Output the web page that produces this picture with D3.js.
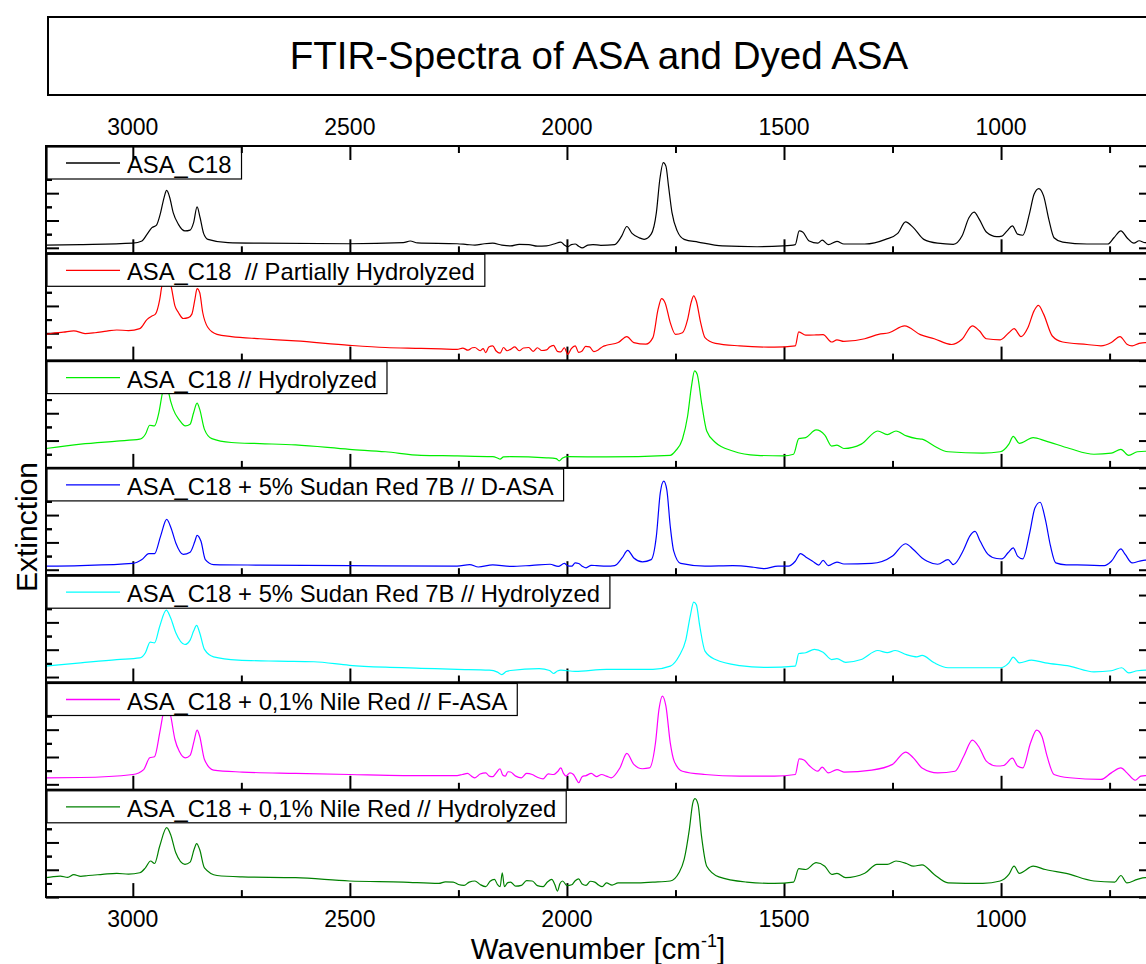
<!DOCTYPE html>
<html>
<head>
<meta charset="utf-8">
<script src="https://cdn.jsdelivr.net/npm/d3@7"></script>
<style>
  html, body { margin: 0; padding: 0; background: #fff; overflow: hidden; }
  svg { display: block; font-family: "Liberation Sans", Arial, sans-serif; }
</style>
</head>
<body>
<svg id="chart" width="1146" height="964"></svg>
<script>
// ---- data -------------------------------------------------------------
const chartTitle = "FTIR-Spectra of ASA and Dyed ASA";
const wavenumberRange = [3200, 650];
const xMajorTicks = [3000, 2500, 2000, 1500, 1000];
const xMinorTicks = [2750, 2250, 1750, 1250, 750];

const seriesNames = [
  "ASA_C18",
  "ASA_C18  // Partially Hydrolyzed",
  "ASA_C18 // Hydrolyzed",
  "ASA_C18 + 5% Sudan Red 7B // D-ASA",
  "ASA_C18 + 5% Sudan Red 7B // Hydrolyzed",
  "ASA_C18 + 0,1% Nile Red // F-ASA",
  "ASA_C18 + 0,1% Nile Red // Hydrolyzed"
];
const seriesColors = ["#000000", "#ff0000", "#00ee00", "#0000ff", "#00ffff", "#ff00ff", "#008000"];
// lower end of each panel's extinction axis
const panelMin = [-0.02, 0, 0, -0.02, -0.02, -0.02, 0];

// [wavenumber (cm-1), extinction]
const asaC18 = [[3200,0.010],[3120,0.012],[3000,0.017],[2979,0.025],[2967,0.050],[2956,0.074],[2946,0.082],[2936,0.129],[2928,0.184],[2922,0.210],[2915,0.184],[2907,0.129],[2895,0.086],[2880,0.062],[2868,0.065],[2860,0.092],[2852,0.150],[2845,0.110],[2837,0.053],[2827,0.031],[2781,0.019],[2707,0.017],[2501,0.015],[2377,0.019],[2361,0.025],[2344,0.018],[2253,0.015],[2230,0.012],[2212,0.010],[2190,0.015],[2171,0.017],[2150,0.010],[2130,0.007],[2110,0.013],[2088,0.012],[2068,0.006],[2047,0.007],[2030,0.014],[2014,0.021],[2006,0.010],[1998,0.004],[1990,0.012],[1981,0.014],[1973,0.006],[1965,0.000],[1952,0.010],[1940,0.012],[1922,0.009],[1890,0.012],[1874,0.043],[1862,0.078],[1850,0.053],[1834,0.037],[1822,0.031],[1806,0.050],[1794,0.129],[1786,0.251],[1778,0.312],[1772,0.299],[1766,0.226],[1758,0.129],[1746,0.062],[1730,0.031],[1698,0.021],[1642,0.007],[1562,0.004],[1502,0.007],[1474,0.012],[1465,0.062],[1457,0.058],[1442,0.025],[1422,0.017],[1412,0.028],[1398,0.012],[1378,0.024],[1362,0.014],[1314,0.014],[1266,0.031],[1238,0.053],[1220,0.095],[1202,0.074],[1178,0.031],[1146,0.017],[1110,0.013],[1090,0.043],[1074,0.110],[1062,0.131],[1050,0.104],[1034,0.058],[1010,0.041],[998,0.043],[986,0.062],[974,0.080],[962,0.050],[950,0.046],[934,0.129],[924,0.196],[913,0.217],[902,0.190],[890,0.104],[878,0.037],[858,0.021],[802,0.014],[754,0.014],[740,0.037],[724,0.062],[710,0.037],[694,0.017],[682,0.026],[668,0.019],[650,0.020]];

const asaPartHydro = [[3200,0.096],[3186,0.100],[3160,0.104],[3136,0.109],[3110,0.099],[3087,0.102],[3060,0.108],[3037,0.112],[3010,0.110],[2984,0.117],[2967,0.151],[2956,0.163],[2948,0.170],[2938,0.224],[2933,0.273],[2922,0.310],[2912,0.273],[2903,0.200],[2895,0.176],[2884,0.154],[2872,0.157],[2864,0.170],[2857,0.224],[2852,0.263],[2846,0.249],[2839,0.176],[2827,0.121],[2806,0.096],[2773,0.088],[2707,0.080],[2625,0.072],[2501,0.056],[2418,0.048],[2336,0.045],[2290,0.043],[2253,0.041],[2240,0.046],[2228,0.038],[2218,0.047],[2212,0.048],[2200,0.036],[2193,0.044],[2187,0.029],[2180,0.050],[2171,0.054],[2163,0.035],[2154,0.027],[2146,0.048],[2138,0.036],[2130,0.041],[2120,0.050],[2110,0.036],[2100,0.046],[2088,0.048],[2078,0.034],[2068,0.047],[2058,0.037],[2047,0.039],[2040,0.050],[2031,0.056],[2022,0.034],[2014,0.032],[2006,0.047],[1998,0.023],[1990,0.044],[1981,0.054],[1973,0.030],[1965,0.035],[1957,0.052],[1948,0.050],[1938,0.033],[1928,0.039],[1918,0.051],[1909,0.056],[1882,0.066],[1862,0.088],[1846,0.066],[1818,0.060],[1802,0.084],[1790,0.188],[1782,0.227],[1774,0.212],[1762,0.139],[1750,0.096],[1734,0.102],[1722,0.151],[1714,0.212],[1708,0.237],[1702,0.218],[1692,0.139],[1682,0.084],[1658,0.063],[1602,0.054],[1522,0.049],[1474,0.054],[1466,0.105],[1450,0.093],[1426,0.094],[1410,0.095],[1390,0.068],[1378,0.076],[1362,0.070],[1314,0.080],[1282,0.096],[1258,0.102],[1222,0.127],[1186,0.095],[1154,0.080],[1114,0.059],[1090,0.078],[1066,0.127],[1050,0.109],[1034,0.080],[1002,0.076],[982,0.102],[970,0.117],[954,0.088],[938,0.121],[924,0.182],[914,0.202],[902,0.170],[882,0.090],[858,0.068],[802,0.059],[770,0.054],[746,0.066],[726,0.088],[710,0.060],[698,0.054],[682,0.063],[668,0.066],[650,0.064]];

const asaHydro = [[3200,0.071],[3120,0.087],[3037,0.098],[2984,0.105],[2971,0.123],[2961,0.156],[2950,0.154],[2940,0.202],[2932,0.273],[2922,0.324],[2917,0.273],[2907,0.215],[2893,0.176],[2879,0.154],[2868,0.160],[2860,0.202],[2852,0.237],[2846,0.215],[2835,0.141],[2818,0.107],[2773,0.093],[2707,0.089],[2625,0.084],[2501,0.068],[2418,0.059],[2336,0.046],[2253,0.044],[2171,0.041],[2160,0.036],[2154,0.032],[2146,0.040],[2130,0.041],[2047,0.037],[2025,0.034],[2018,0.026],[2010,0.036],[1998,0.041],[1909,0.040],[1762,0.046],[1750,0.062],[1734,0.105],[1722,0.190],[1713,0.300],[1706,0.355],[1700,0.343],[1690,0.239],[1678,0.135],[1658,0.093],[1618,0.062],[1562,0.046],[1502,0.044],[1478,0.050],[1466,0.107],[1450,0.111],[1426,0.139],[1406,0.120],[1390,0.080],[1378,0.083],[1362,0.071],[1322,0.087],[1284,0.135],[1262,0.122],[1242,0.135],[1218,0.117],[1194,0.107],[1182,0.105],[1154,0.080],[1122,0.059],[1042,0.054],[1002,0.059],[982,0.087],[972,0.115],[958,0.090],[926,0.111],[898,0.099],[842,0.071],[786,0.050],[746,0.054],[724,0.068],[706,0.046],[686,0.059],[668,0.061],[650,0.060]];

const sudanDASA = [[3200,0.013],[3120,0.015],[3000,0.023],[2979,0.037],[2963,0.059],[2950,0.059],[2936,0.123],[2922,0.184],[2912,0.153],[2901,0.098],[2884,0.056],[2868,0.064],[2857,0.104],[2852,0.126],[2843,0.104],[2833,0.037],[2814,0.019],[2707,0.017],[2501,0.015],[2253,0.013],[2224,0.019],[2204,0.010],[2171,0.018],[2130,0.012],[2080,0.016],[2039,0.020],[2020,0.012],[2006,0.023],[1998,0.014],[1989,0.013],[1981,0.025],[1973,0.023],[1964,0.012],[1956,0.007],[1944,0.016],[1932,0.015],[1909,0.013],[1890,0.015],[1873,0.043],[1860,0.071],[1846,0.043],[1826,0.029],[1806,0.037],[1794,0.123],[1785,0.281],[1777,0.324],[1770,0.293],[1762,0.159],[1754,0.068],[1738,0.023],[1682,0.013],[1618,0.015],[1570,0.009],[1546,0.004],[1514,0.013],[1490,0.013],[1474,0.031],[1462,0.059],[1450,0.047],[1434,0.031],[1420,0.017],[1410,0.034],[1398,0.015],[1378,0.028],[1362,0.021],[1298,0.023],[1250,0.050],[1220,0.095],[1202,0.074],[1182,0.043],[1170,0.031],[1146,0.020],[1122,0.037],[1110,0.019],[1086,0.074],[1072,0.123],[1060,0.140],[1048,0.104],[1030,0.056],[1010,0.041],[998,0.040],[984,0.062],[972,0.080],[962,0.050],[950,0.040],[934,0.135],[922,0.226],[910,0.247],[898,0.184],[886,0.086],[874,0.025],[850,0.018],[802,0.017],[762,0.015],[746,0.031],[724,0.076],[714,0.056],[698,0.025],[682,0.031],[668,0.035],[650,0.032]];

const sudanHydro = [[3200,0.040],[3120,0.052],[3037,0.064],[2984,0.070],[2971,0.089],[2960,0.128],[2950,0.125],[2938,0.186],[2923,0.245],[2913,0.217],[2901,0.162],[2880,0.119],[2868,0.135],[2860,0.168],[2853,0.189],[2846,0.162],[2835,0.101],[2814,0.074],[2757,0.062],[2666,0.058],[2583,0.056],[2501,0.043],[2418,0.036],[2336,0.032],[2253,0.028],[2179,0.025],[2160,0.018],[2150,0.009],[2140,0.020],[2130,0.024],[2064,0.031],[2040,0.024],[2031,0.013],[2022,0.022],[2014,0.025],[1981,0.021],[1909,0.028],[1802,0.028],[1762,0.040],[1742,0.076],[1726,0.137],[1716,0.223],[1708,0.274],[1702,0.265],[1694,0.186],[1682,0.095],[1658,0.064],[1602,0.042],[1538,0.035],[1474,0.040],[1466,0.086],[1450,0.089],[1430,0.101],[1410,0.091],[1390,0.064],[1378,0.067],[1358,0.054],[1322,0.064],[1284,0.097],[1262,0.089],[1244,0.097],[1218,0.082],[1194,0.074],[1182,0.079],[1154,0.052],[1122,0.034],[1042,0.034],[1002,0.034],[982,0.052],[972,0.073],[958,0.052],[930,0.062],[898,0.052],[842,0.040],[786,0.019],[746,0.023],[722,0.034],[706,0.015],[686,0.023],[668,0.025],[650,0.024]];

const nileFASA = [[3200,0.024],[3120,0.025],[3000,0.036],[2975,0.054],[2961,0.097],[2950,0.101],[2938,0.189],[2930,0.259],[2922,0.298],[2913,0.252],[2903,0.164],[2893,0.121],[2879,0.097],[2868,0.106],[2859,0.158],[2852,0.198],[2846,0.176],[2835,0.091],[2814,0.052],[2748,0.045],[2625,0.040],[2501,0.036],[2377,0.032],[2253,0.032],[2241,0.036],[2229,0.040],[2220,0.030],[2212,0.024],[2200,0.038],[2187,0.042],[2179,0.030],[2171,0.028],[2162,0.044],[2154,0.057],[2148,0.034],[2142,0.030],[2136,0.046],[2130,0.045],[2118,0.030],[2105,0.024],[2093,0.040],[2080,0.036],[2068,0.026],[2055,0.020],[2043,0.038],[2031,0.036],[2022,0.046],[2014,0.060],[2008,0.040],[2002,0.030],[1993,0.042],[1985,0.036],[1979,0.020],[1973,0.006],[1965,0.028],[1956,0.032],[1944,0.040],[1932,0.028],[1920,0.036],[1909,0.030],[1898,0.024],[1878,0.060],[1862,0.113],[1846,0.073],[1826,0.057],[1810,0.060],[1796,0.152],[1788,0.274],[1780,0.323],[1772,0.286],[1762,0.152],[1753,0.085],[1734,0.048],[1682,0.036],[1602,0.030],[1522,0.030],[1474,0.036],[1465,0.093],[1454,0.089],[1442,0.069],[1422,0.048],[1412,0.063],[1398,0.042],[1378,0.054],[1362,0.045],[1298,0.052],[1250,0.073],[1220,0.118],[1202,0.097],[1182,0.060],[1146,0.042],[1106,0.048],[1086,0.103],[1066,0.162],[1050,0.134],[1034,0.085],[1010,0.067],[994,0.069],[974,0.096],[962,0.067],[950,0.060],[932,0.152],[918,0.198],[906,0.176],[894,0.103],[878,0.036],[842,0.024],[770,0.018],[746,0.042],[724,0.060],[710,0.042],[691,0.015],[678,0.030],[668,0.032],[650,0.030]];

const nileHydro = [[3200,0.071],[3183,0.075],[3167,0.077],[3150,0.072],[3136,0.082],[3120,0.076],[3103,0.079],[3070,0.083],[3037,0.087],[3010,0.084],[2984,0.089],[2971,0.107],[2959,0.132],[2950,0.123],[2938,0.187],[2922,0.254],[2913,0.229],[2901,0.162],[2880,0.120],[2868,0.128],[2859,0.174],[2853,0.196],[2846,0.174],[2835,0.107],[2806,0.079],[2748,0.074],[2625,0.071],[2501,0.059],[2377,0.055],[2295,0.050],[2280,0.056],[2262,0.055],[2250,0.046],[2237,0.043],[2225,0.055],[2212,0.059],[2200,0.046],[2187,0.038],[2177,0.058],[2167,0.065],[2160,0.046],[2154,0.038],[2149,0.089],[2144,0.038],[2137,0.052],[2130,0.055],[2118,0.040],[2105,0.043],[2093,0.060],[2080,0.059],[2068,0.042],[2055,0.038],[2045,0.055],[2035,0.065],[2028,0.046],[2022,0.022],[2016,0.050],[2010,0.059],[2000,0.042],[1989,0.045],[1981,0.060],[1973,0.067],[1965,0.048],[1956,0.043],[1946,0.058],[1936,0.055],[1927,0.044],[1919,0.038],[1909,0.052],[1896,0.044],[1882,0.052],[1842,0.052],[1802,0.055],[1762,0.059],[1742,0.089],[1730,0.138],[1718,0.248],[1710,0.345],[1705,0.360],[1698,0.339],[1690,0.223],[1678,0.113],[1650,0.074],[1586,0.055],[1522,0.050],[1478,0.055],[1466,0.104],[1450,0.101],[1426,0.126],[1406,0.113],[1390,0.083],[1378,0.087],[1358,0.071],[1314,0.087],[1286,0.120],[1262,0.120],[1242,0.132],[1218,0.123],[1202,0.113],[1182,0.118],[1154,0.083],[1122,0.052],[1042,0.050],[1002,0.059],[982,0.083],[970,0.113],[958,0.087],[926,0.113],[898,0.101],[850,0.087],[786,0.059],[738,0.055],[724,0.079],[710,0.052],[686,0.065],[668,0.071],[650,0.070]];

const spectra = [asaC18, asaPartHydro, asaHydro, sudanDASA, sudanHydro, nileFASA, nileHydro];

// ---- layout -----------------------------------------------------------
const plotLeft = 46, plotRight = 1153;
const plotTop = 146, panelH = 107.3;
const panelSpan = 0.3926;          // extinction range shown in each panel
const frameW = 2;

const svg = d3.select("#chart");

const x = d3.scaleLinear().domain(wavenumberRange).range([plotLeft, plotRight]);

// title box
svg.append("rect")
  .attr("x", 48).attr("y", 17).attr("width", 1105).attr("height", 78)
  .attr("fill", "#fff").attr("stroke", "#000").attr("stroke-width", 2);
svg.append("text")
  .attr("x", 599).attr("y", 69)
  .attr("text-anchor", "middle")
  .attr("font-size", 38.5).attr("fill", "#000")
  .text(chartTitle);

const line = d3.line().curve(d3.curveMonotoneX);

function styleAxis(g) {
  g.select(".domain").remove();
  g.selectAll(".tick line").attr("stroke", "#000").attr("stroke-width", 2);
  g.selectAll(".tick text").remove();
}

const defs = svg.append("defs");

spectra.forEach((data, i) => {
  const top = plotTop + i * panelH;
  const bottom = top + panelH;
  const y = d3.scaleLinear()
    .domain([panelMin[i], panelMin[i] + panelSpan])
    .range([bottom, top]);

  const panel = svg.append("g").attr("class", "panel");

  // x ticks along the bottom edge, pointing into the panel
  panel.append("g").attr("transform", `translate(0,${bottom})`)
    .call(d3.axisBottom(x).tickValues(xMajorTicks).tickSize(-14))
    .call(styleAxis);
  panel.append("g").attr("transform", `translate(0,${bottom})`)
    .call(d3.axisBottom(x).tickValues(xMinorTicks).tickSize(-7))
    .call(styleAxis);

  // extinction ticks on both sides
  const yMajor = d3.range(Math.ceil(panelMin[i] / 0.1 - 1e-9) * 0.1, panelMin[i] + panelSpan, 0.1);
  const yMinor = yMajor.map(v => v + 0.05).concat(yMajor.map(v => v - 0.05))
    .filter(v => v > panelMin[i] && v < panelMin[i] + panelSpan);
  panel.append("g").attr("transform", `translate(${plotLeft},0)`)
    .call(d3.axisLeft(y).tickValues(yMajor).tickSize(-13)).call(styleAxis);
  panel.append("g").attr("transform", `translate(${plotLeft},0)`)
    .call(d3.axisLeft(y).tickValues(yMinor).tickSize(-6)).call(styleAxis);
  panel.append("g").attr("transform", `translate(${plotRight},0)`)
    .call(d3.axisRight(y).tickValues(yMajor).tickSize(-14)).call(styleAxis);
  panel.append("g").attr("transform", `translate(${plotRight},0)`)
    .call(d3.axisRight(y).tickValues(yMinor).tickSize(-7)).call(styleAxis);

  // spectrum
  defs.append("clipPath").attr("id", `clip${i}`)
    .append("rect").attr("x", plotLeft).attr("y", top)
    .attr("width", plotRight - plotLeft).attr("height", panelH);
  panel.append("path")
    .datum(data)
    .attr("clip-path", `url(#clip${i})`)
    .attr("fill", "none")
    .attr("stroke", seriesColors[i])
    .attr("stroke-width", 1.2)
    .attr("stroke-linejoin", "round")
    .attr("d", line.x(d => x(d[0])).y(d => y(d[1])));

  // frame
  panel.append("rect")
    .attr("x", plotLeft).attr("y", top)
    .attr("width", plotRight - plotLeft).attr("height", panelH)
    .attr("fill", "none").attr("stroke", "#000").attr("stroke-width", frameW);

  // legend box
  const lg = panel.append("g");
  const box = lg.append("rect")
    .attr("x", plotLeft + 1).attr("y", top + 1).attr("height", 32)
    .attr("fill", "#fff").attr("stroke", "#000").attr("stroke-width", 1.2);
  lg.append("line")
    .attr("x1", plotLeft + 20).attr("x2", plotLeft + 74)
    .attr("y1", top + 17).attr("y2", top + 17)
    .attr("stroke", seriesColors[i]).attr("stroke-width", 1.3);
  const label = lg.append("text")
    .attr("x", plotLeft + 81).attr("y", top + 27)
    .attr("font-size", 23.8).attr("fill", "#000")
    .attr("xml:space", "preserve")
    .style("white-space", "pre")
    .text(seriesNames[i]);
  const len = label.node().getComputedTextLength();
  box.attr("width", 81 + len + 9);
});

// top wavenumber axis
svg.append("g").attr("transform", `translate(0,${plotTop})`)
  .call(d3.axisTop(x).tickValues(xMajorTicks).tickSize(-14)).call(styleAxis);
svg.append("g").attr("transform", `translate(0,${plotTop})`)
  .call(d3.axisTop(x).tickValues(xMinorTicks).tickSize(-7)).call(styleAxis);

// tick labels, top and bottom
const plotBottom = plotTop + spectra.length * panelH;
svg.append("g").selectAll("text").data(xMajorTicks).join("text")
  .attr("x", d => x(d)).attr("y", 135)
  .attr("text-anchor", "middle").attr("font-size", 23).attr("fill", "#000")
  .text(d => d);
svg.append("g").selectAll("text").data(xMajorTicks).join("text")
  .attr("x", d => x(d)).attr("y", plotBottom + 30)
  .attr("text-anchor", "middle").attr("font-size", 23).attr("fill", "#000")
  .text(d => d);

// axis titles
const xt = svg.append("text")
  .attr("x", 598).attr("y", 959)
  .attr("text-anchor", "middle").attr("font-size", 29.5).attr("fill", "#000");
xt.append("tspan").text("Wavenumber [cm");
xt.append("tspan").attr("dy", -12).attr("font-size", 18).text("-1");
xt.append("tspan").attr("dy", 12).text("]");

svg.append("text")
  .attr("transform", "translate(37,527) rotate(-90)")
  .attr("text-anchor", "middle").attr("font-size", 30).attr("fill", "#000")
  .text("Extinction");
</script>
</body>
</html>
